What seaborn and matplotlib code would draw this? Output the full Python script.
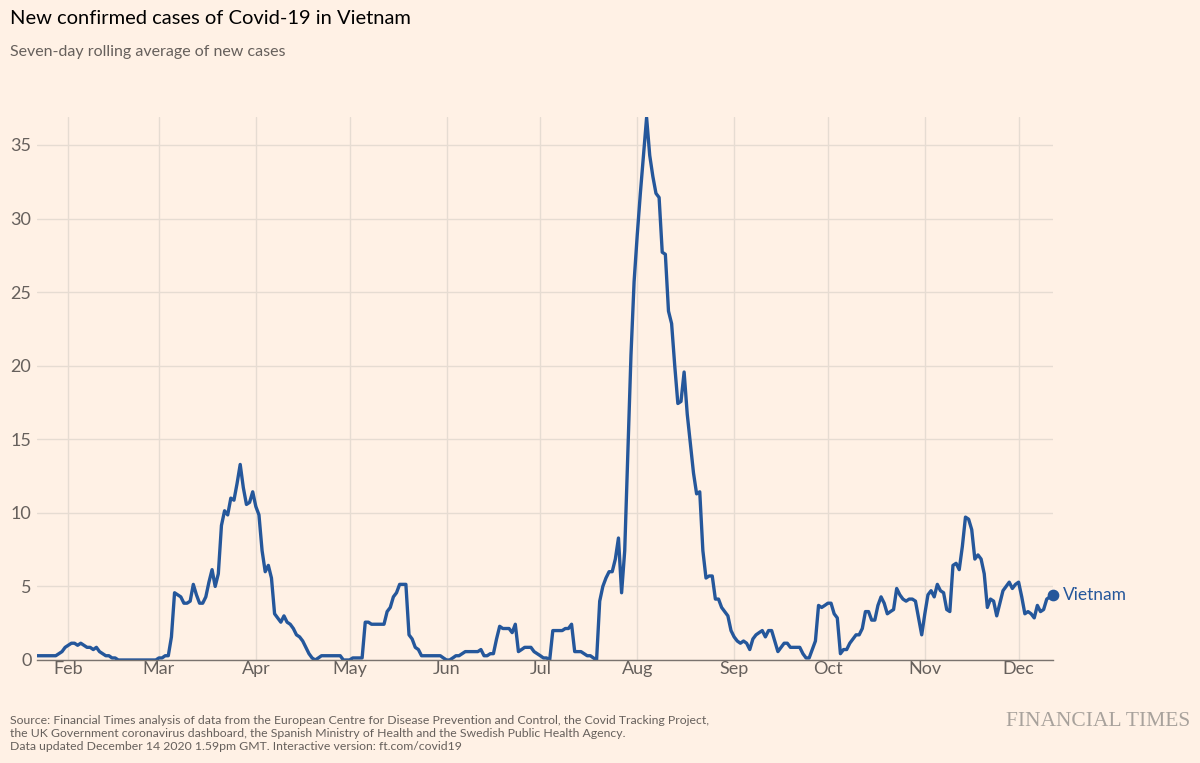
import numpy as np
import pandas as pd
import matplotlib
matplotlib.use("Agg")
import matplotlib.pyplot as plt
import matplotlib.dates as mdates
import seaborn as sns

# ---- data: seven-day rolling average of new cases, Vietnam, 2020 ----
start_date = "2020-01-22"
jan = [0.29, 0.29, 0.29, 0.29, 0.29, 0.29, 0.29, 0.43, 0.57, 0.86]
feb = [1.0, 1.14, 1.14, 1.0, 1.14, 1.0, 0.86, 0.86, 0.71, 0.86, 0.57, 0.43, 0.29, 0.29,
       0.14, 0.14, 0, 0, 0, 0, 0, 0, 0, 0, 0, 0, 0, 0, 0]
mar = [0.14, 0.14, 0.29, 0.29, 1.57, 4.57, 4.43, 4.29, 3.86, 3.86, 4.0, 5.14, 4.43, 3.86,
       3.86, 4.29, 5.29, 6.14, 5.0, 5.86, 9.14, 10.14, 9.86, 11.0, 10.86, 12.0, 13.29,
       11.71, 10.57, 10.71, 11.43]
apr = [10.43, 9.86, 7.43, 6.0, 6.43, 5.57, 3.14, 2.86, 2.57, 3.0, 2.57, 2.43, 2.14, 1.71,
       1.57, 1.29, 0.86, 0.43, 0.14, 0.0, 0.14, 0.29, 0.29, 0.29, 0.29, 0.29, 0.29, 0.29,
       0.0, 0.0]
may = [0.0, 0.14, 0.14, 0.14, 0.14, 2.57, 2.57, 2.43, 2.43, 2.43, 2.43, 2.43, 3.29, 3.57,
       4.29, 4.57, 5.14, 5.14, 5.14, 1.71, 1.43, 0.86, 0.71, 0.29, 0.29, 0.29, 0.29, 0.29,
       0.29, 0.29, 0.14]
jun = [0.0, 0.0, 0.14, 0.29, 0.29, 0.43, 0.57, 0.57, 0.57, 0.57, 0.57, 0.71, 0.29, 0.29,
       0.43, 0.43, 1.43, 2.29, 2.14, 2.14, 2.14, 1.86, 2.43, 0.57, 0.71, 0.86, 0.86, 0.86,
       0.57, 0.43]
jul = [0.29, 0.14, 0.14, 0.0, 2.0, 2.0, 2.0, 2.0, 2.14, 2.14, 2.43, 0.57, 0.57, 0.57,
       0.43, 0.29, 0.29, 0.14, 0.0, 4.0, 5.0, 5.57, 6.0, 6.0, 6.86, 8.29, 4.57, 7.43, 14.0,
       20.71, 25.71]
aug = [28.86, 31.71, 34.29, 36.86, 34.29, 32.86, 31.71, 31.43, 27.71, 27.57, 23.71, 22.86,
       20.0, 17.43, 17.57, 19.57, 16.71, 14.71, 12.71, 11.29, 11.43, 7.43, 5.57, 5.71, 5.71,
       4.14, 4.14, 3.57, 3.29, 3.0, 2.0]
sep = [1.57, 1.29, 1.14, 1.29, 1.14, 0.71, 1.43, 1.71, 1.86, 2.0, 1.57, 2.0, 2.0, 1.29,
       0.57, 0.86, 1.14, 1.14, 0.86, 0.86, 0.86, 0.86, 0.43, 0.14, 0.14, 0.71, 1.29, 3.71,
       3.57, 3.71]
oct_ = [3.86, 3.86, 3.14, 2.86, 0.43, 0.71, 0.71, 1.14, 1.43, 1.71, 1.71, 2.14, 3.29, 3.29,
        2.71, 2.71, 3.71, 4.29, 3.86, 3.14, 3.29, 3.43, 4.86, 4.43, 4.14, 4.0, 4.14, 4.14,
        4.0, 2.86, 1.71]
nov = [3.14, 4.43, 4.71, 4.29, 5.14, 4.71, 4.57, 3.43, 3.29, 6.43, 6.57, 6.14, 7.71, 9.71,
       9.57, 8.86, 6.86, 7.14, 6.86, 5.86, 3.57, 4.14, 4.0, 3.0, 3.86, 4.71, 5.0, 5.29, 4.86,
       5.14]
dec = [5.29, 4.29, 3.14, 3.29, 3.14, 2.86, 3.71, 3.29, 3.43, 4.14, 4.29, 4.43]

y_ticks = [0, 5, 10, 15, 20, 25, 30, 35]
country = "Vietnam"
title = "New confirmed cases of Covid-19 in Vietnam"
subtitle = "Seven-day rolling average of new cases"
source_lines = [
    "Source: Financial Times analysis of data from the European Centre for Disease Prevention and Control, the Covid Tracking Project,",
    "the UK Government coronavirus dashboard, the Spanish Ministry of Health and the Swedish Public Health Agency.",
    "Data updated December 14 2020 1.59pm GMT. Interactive version: ft.com/covid19",
]

values = jan + feb + mar + apr + may + jun + jul + aug + sep + oct_ + nov + dec
dates = pd.date_range(start_date, periods=len(values), freq="D")
df = pd.DataFrame({"date": dates, "cases": values})

# ---- style ----
BG = "#FFF1E5"
LINE = "#25579B"
GRID = "#E6DCD2"
TXT = "#66605C"

sns.set_theme(style="white")
plt.rcParams["font.family"] = ["Lato", "DejaVu Sans"]

fig = plt.figure(figsize=(12, 7.63), dpi=100, facecolor=BG)
ax = fig.add_axes([37 / 1200, 1 - 660 / 763, (1053 - 37) / 1200, (660 - 117) / 763])
ax.set_facecolor(BG)

sns.lineplot(data=df, x="date", y="cases", ax=ax, color=LINE, linewidth=2.4, zorder=3)

# end dot and label
ax.scatter([df["date"].iloc[-1]], [df["cases"].iloc[-1]], s=55, color=LINE, zorder=4,
           clip_on=False)
ax.annotate(country, xy=(df["date"].iloc[-1], df["cases"].iloc[-1]), xytext=(7, 0),
            textcoords="offset points", va="center", ha="left", color=LINE, fontsize=12.5)

ax.set_xlim(dates[0], dates[-1])
ax.set_ylim(0, 36.9)
ax.set_yticks(y_ticks)
ax.set_yticklabels([str(t) for t in y_ticks])
ax.xaxis.set_major_locator(mdates.MonthLocator())
ax.xaxis.set_major_formatter(mdates.DateFormatter("%b"))

ax.grid(True, axis="both", color=GRID, linewidth=1.0, zorder=0)
ax.tick_params(axis="both", length=0, labelsize=13, colors=TXT)
ax.tick_params(axis="y", pad=4)
ax.tick_params(axis="x", pad=1)
ax.set_xlabel("")
ax.set_ylabel("")
for s in ["top", "right", "left"]:
    ax.spines[s].set_visible(False)
ax.spines["bottom"].set_color("#7A736E")
ax.spines["bottom"].set_linewidth(1.0)
ax.spines["bottom"].set_zorder(5)

# ---- texts ----
fig.text(10 / 1200, 1 - 19 / 763, title, fontsize=14.5, color="#000000", va="center", ha="left")
fig.text(10 / 1200, 1 - 52 / 763, subtitle, fontsize=11.5, color=TXT, va="center", ha="left")
for i, line in enumerate(source_lines):
    fig.text(10 / 1200, 1 - (720 + i * 13.5) / 763, line, fontsize=8.8, color=TXT,
             va="center", ha="left")
fig.text(1190 / 1200, 1 - 721 / 763, "FINANCIAL TIMES", fontsize=15.5,
         family=["Liberation Serif", "DejaVu Serif"], color="#A8A29C", va="center", ha="right")

fig.savefig("out.png", dpi=100, facecolor=BG)
